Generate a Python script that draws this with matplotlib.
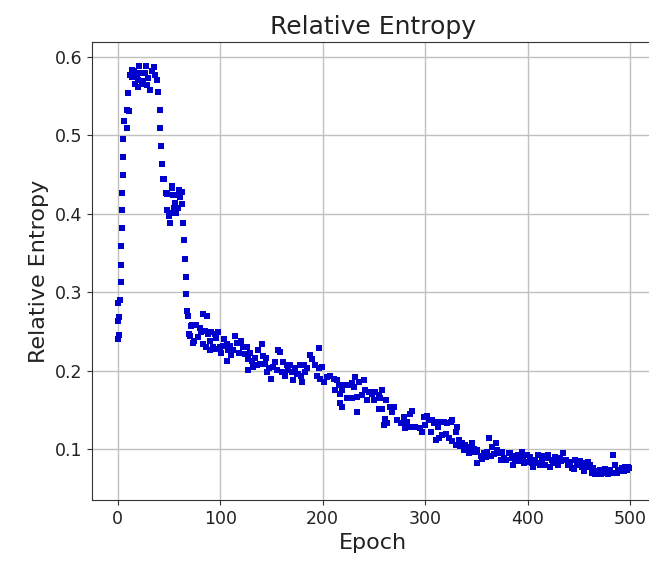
import matplotlib
matplotlib.use("Agg")
import matplotlib.pyplot as plt

# --- data (epoch, relative entropy) ---
rise_x = [0.6, 1.6, 0.0, 1.6, 0.0, 2.2, 2.9, 2.9, 3.2, 3.9, 3.9, 4.5, 4.9, 5.5, 5.5, 6.2, 9.4, 8.8, 11.0, 10.4]
rise_y = [0.240, 0.246, 0.263, 0.268, 0.286, 0.290, 0.313, 0.335, 0.359, 0.382, 0.405, 0.427, 0.449, 0.472, 0.495, 0.519, 0.510, 0.532, 0.531, 0.554]

peak_x = [12.0, 16.2, 18.6, 20.1, 16.9, 19.5, 23.5, 27.4, 26.7, 29.9, 31.6, 35.8, 36.5, 38.1, 39.7, 14.0, 22.0, 25.0, 33.0, 13.5, 21.0, 28.5]
peak_y = [0.577, 0.582, 0.578, 0.571, 0.566, 0.562, 0.566, 0.588, 0.580, 0.573, 0.558, 0.587, 0.577, 0.571, 0.555, 0.574, 0.579, 0.569, 0.582, 0.584, 0.588, 0.564]

fall_x = [41.3, 41.3, 42.0, 43.0, 44.6, 45.3, 47.2, 47.9, 48.5, 51.0, 52.8, 56.0, 57.0, 57.0, 59.3, 61.0, 62.6, 62.6, 64.0, 65.0,
          65.8, 66.5, 66.8, 68.0, 69.0, 70.0, 72.3, 74.0, 53.4, 47.8, 54.3, 54.3, 50.0, 55.0, 60.0]
fall_y = [0.533, 0.510, 0.486, 0.464, 0.444, 0.445, 0.427, 0.426, 0.405, 0.389, 0.435, 0.414, 0.424, 0.401, 0.408, 0.422, 0.428, 0.412, 0.389, 0.367,
          0.343, 0.320, 0.298, 0.276, 0.270, 0.247, 0.259, 0.238, 0.433, 0.405, 0.424, 0.401, 0.397, 0.407, 0.430]

mid_x = [83.4, 87.3, 72.0, 76.8, 70.4, 73.6, 80.0, 81.7, 85.0, 88.3, 91.5, 94.8, 98.0, 96.4,
         83.4, 86.6, 89.9, 93.2, 96.4, 99.7, 102.9, 106.2, 109.5, 112.7, 114.4, 116.0, 120.8, 122.5, 106.2,
         124.1, 127.4, 130.6, 133.9, 137.1, 140.4, 142.0, 138.8, 135.5, 127.4, 132.3, 143.7,
         145.3, 149.2, 151.8, 153.5, 156.7, 158.4, 161.6, 164.8, 166.5, 169.7, 173.0, 176.2, 155.0,
         78.0, 90.0, 101.0, 104.0, 108.0, 111.0, 118.0, 126.0, 129.0, 145.0, 148.0, 160.0, 163.0, 168.0, 171.0, 179.0, 185.0]
mid_y = [0.272, 0.270, 0.257, 0.259, 0.245, 0.236, 0.255, 0.249, 0.251, 0.247, 0.249, 0.247, 0.249, 0.242,
         0.234, 0.230, 0.226, 0.230, 0.228, 0.230, 0.232, 0.234, 0.232, 0.226, 0.245, 0.236, 0.238, 0.230, 0.213,
         0.222, 0.215, 0.213, 0.217, 0.226, 0.234, 0.219, 0.209, 0.207, 0.201, 0.205, 0.209,
         0.198, 0.190, 0.205, 0.211, 0.226, 0.224, 0.211, 0.207, 0.201, 0.198, 0.201, 0.196, 0.201,
         0.243, 0.238, 0.223, 0.241, 0.226, 0.220, 0.223, 0.230, 0.223, 0.216, 0.203, 0.198, 0.193, 0.208, 0.188, 0.193, 0.203]

late_x = [196.0, 188.0, 189.6, 178.2, 181.4, 173.3, 170.0, 174.9, 179.9, 183.1, 192.9, 196.0, 199.4, 194.5, 197.8, 201.0, 204.3,
          207.5, 210.8, 214.1, 215.6, 217.3, 219.0, 222.2, 225.4, 228.7, 232.0, 230.3, 235.2, 240.1, 217.3, 219.0, 228.7,
          233.6, 238.5, 241.7, 245.0, 248.3, 251.5, 254.7, 258.0, 256.4, 233.6, 254.7, 258.0, 266.2, 269.4, 261.3, 263.0,
          259.6, 272.7, 276.0, 279.2, 280.8, 212.0, 224.0, 243.0, 250.0, 262.0, 268.0, 285.0]
late_y = [0.229, 0.220, 0.215, 0.207, 0.207, 0.203, 0.198, 0.196, 0.186, 0.198, 0.207, 0.203, 0.205, 0.194, 0.190, 0.186, 0.192,
          0.194, 0.190, 0.188, 0.182, 0.171, 0.176, 0.182, 0.182, 0.184, 0.192, 0.180, 0.186, 0.188, 0.159, 0.154, 0.165,
          0.167, 0.169, 0.176, 0.173, 0.171, 0.173, 0.169, 0.176, 0.165, 0.147, 0.152, 0.152, 0.154, 0.154, 0.139, 0.133,
          0.131, 0.137, 0.133, 0.141, 0.131, 0.176, 0.166, 0.163, 0.163, 0.163, 0.147, 0.145]

tail_x = [287.4, 279.2, 282.5, 280.8, 277.6, 285.7, 290.6, 295.5, 297.2, 298.7, 302.1, 303.7, 306.9, 308.5, 311.8, 315.0,
          318.3, 321.6, 324.8, 326.5, 305.3, 310.2, 313.4, 316.7, 320.0, 323.2, 326.5, 329.7, 331.4, 329.7, 333.0, 336.3,
          337.9, 341.3, 344.6, 347.8, 351.1, 354.2, 351.1, 357.6, 360.7, 362.3, 365.6, 368.8, 370.5, 373.7, 377.0, 381.8,
          385.1, 388.3, 300.0, 313.0, 334.0, 339.0, 343.0, 346.0, 349.0, 356.0, 359.0, 364.0, 367.0, 372.0, 375.0, 379.0, 383.0]
tail_y = [0.149, 0.141, 0.135, 0.127, 0.133, 0.129, 0.129, 0.127, 0.122, 0.141, 0.143, 0.137, 0.137, 0.133, 0.135, 0.135,
          0.135, 0.133, 0.135, 0.137, 0.122, 0.112, 0.114, 0.118, 0.120, 0.114, 0.110, 0.122, 0.129, 0.106, 0.112, 0.108,
          0.099, 0.103, 0.101, 0.101, 0.099, 0.091, 0.083, 0.095, 0.097, 0.114, 0.103, 0.108, 0.099, 0.087, 0.089, 0.095,
          0.089, 0.087, 0.131, 0.128, 0.104, 0.106, 0.095, 0.108, 0.096, 0.088, 0.090, 0.092, 0.094, 0.095, 0.096, 0.086, 0.095]

end_x = [384.4, 387.6, 390.8, 394.1, 395.7, 399.0, 400.6, 403.9, 407.1, 410.4, 413.7, 415.3, 416.9, 418.5, 420.2, 423.5,
         425.1, 428.4, 431.7, 434.9, 436.6, 439.8, 441.5, 443.1, 446.3, 449.6, 452.9, 456.1, 459.3, 461.0, 464.2, 467.6,
         470.7, 474.0, 477.3, 480.5, 483.1, 485.4, 488.6, 491.9, 495.1, 498.4,
         386.0, 392.0, 397.0, 402.0, 405.0, 409.0, 412.0, 422.0, 427.0, 430.0, 433.0, 438.0, 445.0, 448.0, 451.0, 455.0,
         458.0, 463.0, 466.0, 469.0, 472.0, 476.0, 479.0, 482.0, 487.0, 490.0, 494.0, 497.0, 499.0]
end_y = [0.091, 0.087, 0.093, 0.097, 0.089, 0.093, 0.084, 0.082, 0.087, 0.093, 0.087, 0.091, 0.080, 0.089, 0.093, 0.087,
         0.082, 0.084, 0.089, 0.095, 0.087, 0.080, 0.084, 0.076, 0.087, 0.084, 0.078, 0.082, 0.084, 0.080, 0.076, 0.072,
         0.074, 0.072, 0.070, 0.074, 0.093, 0.080, 0.072, 0.076, 0.078, 0.078,
         0.080, 0.085, 0.082, 0.090, 0.078, 0.083, 0.080, 0.078, 0.090, 0.080, 0.085, 0.086, 0.075, 0.080, 0.085, 0.072,
         0.078, 0.070, 0.068, 0.069, 0.069, 0.075, 0.068, 0.070, 0.070, 0.074, 0.072, 0.074, 0.076]

epochs = rise_x + peak_x + fall_x + mid_x + late_x + tail_x + end_x
entropy = rise_y + peak_y + fall_y + mid_y + late_y + tail_y + end_y

x_ticks = [0, 100, 200, 300, 400, 500]
y_ticks = [0.1, 0.2, 0.3, 0.4, 0.5, 0.6]

fig = plt.figure(figsize=(6.49, 5.62), dpi=100)
ax = fig.add_axes([92 / 649, 62 / 562, (654.5 - 92) / 649, (519.7 - 62) / 562])
ax.plot(epochs, entropy, 's', color='mediumblue', markersize=4.2, markeredgewidth=0)
ax.set_xlim(-25.1, 523.9)
ax.set_ylim(0.0354, 0.6187)
ax.set_xticks(x_ticks)
ax.set_yticks(y_ticks)
ax.grid(True, color='#c0c0c0', linewidth=1.0)
ax.set_axisbelow(True)
for s in ax.spines.values():
    s.set_color('#333333')
ax.tick_params(labelsize=12.5, color='#333333', labelcolor='#222222')
ax.set_xlabel('Epoch', fontsize=16, color='#222222')
ax.set_ylabel('Relative Entropy', fontsize=16, color='#222222')
ax.set_title('Relative Entropy', fontsize=18, color='#222222')
fig.savefig('out.png', dpi=100)
